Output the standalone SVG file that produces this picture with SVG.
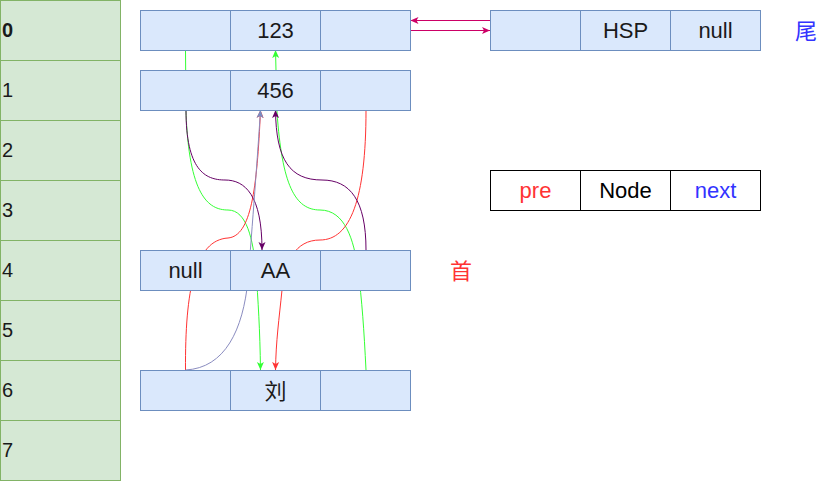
<svg xmlns="http://www.w3.org/2000/svg" width="831" height="481" viewBox="0 0 831 481">
<style>
.cell{fill:#d5e8d4;stroke:#82b366;stroke-width:1}
.nd{fill:#dae8fc;stroke:#6c8ebf;stroke-width:1}
.lg{fill:#ffffff;stroke:#000000;stroke-width:1}
text{font-family:"Liberation Sans",Arial,"Noto Sans CJK SC",sans-serif;font-size:22px;fill:#1a1a1a}
.c{text-anchor:middle}
.idx{text-anchor:start;font-size:20px}
.e{fill:none;stroke-width:1}
</style>
<defs>
<marker id="aG" viewBox="0 0 8 8" refX="8" refY="4" markerWidth="8" markerHeight="8" markerUnits="userSpaceOnUse" orient="auto"><path d="M0,0.5 L8,4 L0,7.5 L2,4 z" fill="#33ff33"/></marker>
<marker id="aR" viewBox="0 0 8 8" refX="8" refY="4" markerWidth="8" markerHeight="8" markerUnits="userSpaceOnUse" orient="auto"><path d="M0,0.5 L8,4 L0,7.5 L2,4 z" fill="#ff3333"/></marker>
<marker id="aP" viewBox="0 0 8 8" refX="8" refY="4" markerWidth="8" markerHeight="8" markerUnits="userSpaceOnUse" orient="auto"><path d="M0,0.5 L8,4 L0,7.5 L2,4 z" fill="#660066"/></marker>
<marker id="aB" viewBox="0 0 8 8" refX="8" refY="4" markerWidth="8" markerHeight="8" markerUnits="userSpaceOnUse" orient="auto"><path d="M0,0.5 L8,4 L0,7.5 L2,4 z" fill="#7a8cc0"/></marker>
<marker id="aM" viewBox="0 0 8 8" refX="8" refY="4" markerWidth="8" markerHeight="8" markerUnits="userSpaceOnUse" orient="auto"><path d="M0,0.5 L8,4 L0,7.5 L2,4 z" fill="#cc0066"/></marker>
</defs>

<g id="table">
<rect class="cell" x="0.5" y="0.5" width="120" height="60"/>
<rect class="cell" x="0.5" y="60.5" width="120" height="60"/>
<rect class="cell" x="0.5" y="120.5" width="120" height="60"/>
<rect class="cell" x="0.5" y="180.5" width="120" height="60"/>
<rect class="cell" x="0.5" y="240.5" width="120" height="60"/>
<rect class="cell" x="0.5" y="300.5" width="120" height="60"/>
<rect class="cell" x="0.5" y="360.5" width="120" height="60"/>
<rect class="cell" x="0.5" y="420.5" width="120" height="60"/>
<text class="idx" x="2" y="37" font-weight="bold">0</text>
<text class="idx" x="2" y="97">1</text>
<text class="idx" x="2" y="157">2</text>
<text class="idx" x="2" y="217">3</text>
<text class="idx" x="2" y="277">4</text>
<text class="idx" x="2" y="337">5</text>
<text class="idx" x="2" y="397">6</text>
<text class="idx" x="2" y="457">7</text>
</g>

<g id="connectors">
<path class="e" stroke="#cc0066" d="M490,20.5 L410.5,20.5" marker-end="url(#aM)"/>
<path class="e" stroke="#cc0066" d="M410.5,30.5 L490,30.5" marker-end="url(#aM)"/>
<path class="e" stroke="#33ff33" d="M185.5,50 L186,112 C189,195 208,210 228,210 C247,210 253,240 256,270 C258,300 260,330 260.5,370" marker-end="url(#aG)"/>
<path class="e" stroke="#33ff33" d="M366,370 C364,330 362,300 358,270 C354,240 345,210 320,210 C295,210 282,185 277,112 L275.5,50" marker-end="url(#aG)"/>
<path class="e" stroke="#ff3333" d="M366,110 C366,200 350,240 320,240 C295,240 285,262 282,290 C279,320 276,340 275.5,370" marker-end="url(#aR)"/>
<path class="e" stroke="#ff3333" d="M185.5,370 C185,290 195,240 228,238 C251,236 257,190 260.5,110" marker-end="url(#aR)"/>
<path class="e" stroke="#660066" d="M186,110 C186,170 205,180 225,180 C245,180 262,195 262,250" marker-end="url(#aP)"/>
<path class="e" stroke="#660066" d="M366,250 C366,200 350,180 322,180 C290,180 276,160 275.5,110" marker-end="url(#aP)"/>
<path class="e" stroke="#8a8cc0" d="M185.5,370 C225,368 243,330 248,280 C252,230 258,150 260.5,110" marker-end="url(#aB)"/>
</g>

<g id="node-123">
<rect class="nd" x="140.5" y="10.5" width="90" height="40"/>
<rect class="nd" x="230.5" y="10.5" width="90" height="40"/>
<rect class="nd" x="320.5" y="10.5" width="90" height="40"/>
<text class="c" x="275.5" y="38">123</text>
</g>
<g id="node-456">
<rect class="nd" x="140.5" y="70.5" width="90" height="40"/>
<rect class="nd" x="230.5" y="70.5" width="90" height="40"/>
<rect class="nd" x="320.5" y="70.5" width="90" height="40"/>
<text class="c" x="275.5" y="98">456</text>
</g>
<g id="node-AA">
<rect class="nd" x="140.5" y="250.5" width="90" height="40"/>
<rect class="nd" x="230.5" y="250.5" width="90" height="40"/>
<rect class="nd" x="320.5" y="250.5" width="90" height="40"/>
<text class="c" x="185.5" y="278">null</text>
<text class="c" x="275.5" y="278">AA</text>
</g>
<g id="node-liu">
<rect class="nd" x="140.5" y="370.5" width="90" height="40"/>
<rect class="nd" x="230.5" y="370.5" width="90" height="40"/>
<rect class="nd" x="320.5" y="370.5" width="90" height="40"/>
<text class="c" x="275.5" y="399">刘</text>
</g>
<g id="node-HSP">
<rect class="nd" x="490.5" y="10.5" width="90" height="40"/>
<rect class="nd" x="580.5" y="10.5" width="90" height="40"/>
<rect class="nd" x="670.5" y="10.5" width="90" height="40"/>
<text class="c" x="625.5" y="38">HSP</text>
<text class="c" x="715.5" y="38">null</text>
</g>
<g id="legend">
<rect class="lg" x="490.5" y="170.5" width="90" height="40"/>
<rect class="lg" x="580.5" y="170.5" width="90" height="40"/>
<rect class="lg" x="670.5" y="170.5" width="90" height="40"/>
<text class="c" x="535.5" y="198" style="fill:#ff3333">pre</text>
<text class="c" x="625.5" y="198" style="fill:#000000">Node</text>
<text class="c" x="715.5" y="198" style="fill:#3333ff">next</text>
</g>
<g id="label-tail">
<text class="c" x="806" y="39" style="fill:#3333ff">尾</text>
</g>
<g id="label-head">
<text class="c" x="461" y="279" style="fill:#ff3333">首</text>
</g>
</svg>
